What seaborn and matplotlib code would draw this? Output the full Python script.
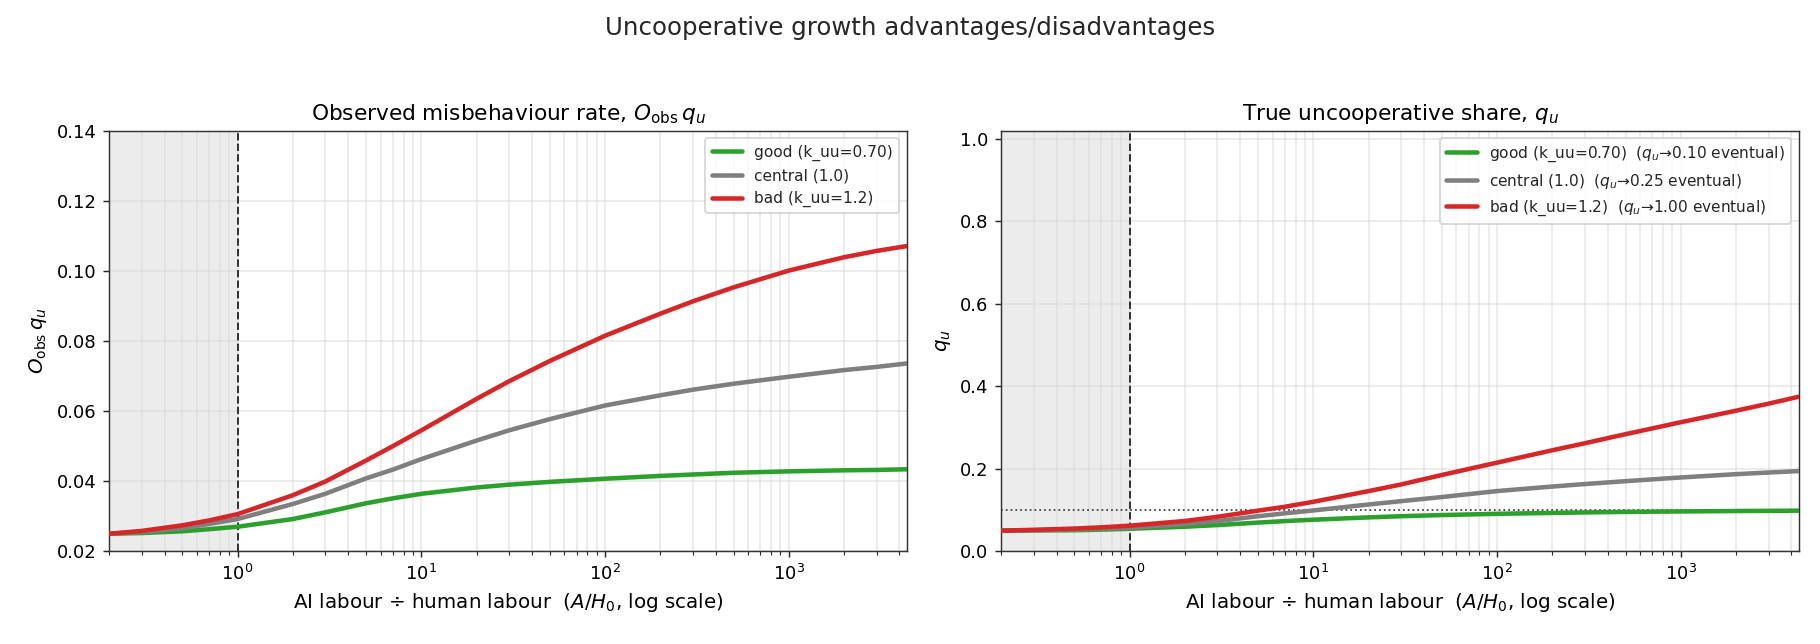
import numpy as np
import pandas as pd
import matplotlib
matplotlib.use("Agg")
import matplotlib.pyplot as plt
import seaborn as sns

# A/H0 sample points (log axis)
ratio = [0.2, 0.3, 0.5, 0.7, 1, 2, 3, 5, 7, 10, 20, 30, 50, 100,
         200, 300, 500, 1000, 2000, 3000, 4400]

# observed misbehaviour rate O_obs * q_u
obs_good = [0.0250, 0.0252, 0.0257, 0.0263, 0.0270, 0.0292, 0.0311, 0.0337,
            0.0351, 0.0364, 0.0382, 0.0390, 0.0398, 0.0407, 0.0415, 0.0419,
            0.0424, 0.0428, 0.0431, 0.0432, 0.0434]
obs_central = [0.0250, 0.0255, 0.0266, 0.0278, 0.0292, 0.0335, 0.0364, 0.0408,
               0.0433, 0.0463, 0.0516, 0.0545, 0.0577, 0.0616, 0.0645, 0.0661,
               0.0678, 0.0698, 0.0717, 0.0726, 0.0736]
obs_bad = [0.0250, 0.0258, 0.0274, 0.0288, 0.0306, 0.0360, 0.0399, 0.0459,
           0.0500, 0.0545, 0.0635, 0.0685, 0.0743, 0.0815, 0.0878, 0.0913,
           0.0953, 0.1001, 0.1039, 0.1057, 0.1071]

# true uncooperative share q_u
q_good = [0.050, 0.0505, 0.051, 0.0525, 0.0545, 0.0595, 0.0635, 0.0695,
          0.0732, 0.0765, 0.0822, 0.0850, 0.0878, 0.0908, 0.0930, 0.0942,
          0.0955, 0.0966, 0.0976, 0.0980, 0.0985]
q_central = [0.050, 0.051, 0.053, 0.055, 0.057, 0.066, 0.073, 0.085,
             0.092, 0.099, 0.1135, 0.1215, 0.1315, 0.146, 0.157, 0.163,
             0.170, 0.179, 0.187, 0.191, 0.1945]
q_bad = [0.050, 0.052, 0.055, 0.058, 0.062, 0.0735, 0.0835, 0.0985,
         0.108, 0.120, 0.146, 0.162, 0.185, 0.215, 0.245, 0.262,
         0.284, 0.313, 0.341, 0.358, 0.375]

scenarios = ["good (k_uu=0.70)", "central (1.0)", "bad (k_uu=1.2)"]
eventual = ["0.10", "0.25", "1.00"]
colors = ["#2ca02c", "#7f7f7f", "#d62728"]
q_eventual_good = 0.10
x_min, x_max = 0.2, 4400

sns.set_style("ticks")
plt.rcParams["font.family"] = ["DejaVu Sans"]

fig, axes = plt.subplots(1, 2, figsize=(14, 4.954), dpi=130)
fig.subplots_adjust(left=0.06, right=0.9885, top=0.797, bottom=0.144, wspace=0.118)


def make_frame(series, labels):
    rows = []
    for lab, vals in zip(labels, series):
        for x, v in zip(ratio, vals):
            rows.append({"ratio": x, "value": v, "scenario": lab})
    return pd.DataFrame(rows)


left_df = make_frame([obs_good, obs_central, obs_bad], scenarios)
right_labels = [f"{s}  ($q_u$→{e} eventual)" for s, e in zip(scenarios, eventual)]
right_df = make_frame([q_good, q_central, q_bad], right_labels)

panels = [
    (axes[0], left_df, scenarios, "Observed misbehaviour rate, $O_{\\rm obs}\\,q_u$",
     "$O_{\\rm obs}\\,q_u$", (0.02, 0.14)),
    (axes[1], right_df, right_labels, "True uncooperative share, $q_u$",
     "$q_u$", (0.0, 1.02)),
]

for ax, df, labels, title, ylab, ylim in panels:
    ax.axvspan(x_min, 1, color="#ececec", zorder=0, lw=0)
    sns.lineplot(data=df, x="ratio", y="value", hue="scenario", hue_order=labels,
                 palette=colors, linewidth=2.5, estimator=None, ax=ax, zorder=3)
    ax.axvline(1, color="#333333", ls="--", lw=1.1, zorder=2)
    ax.set_xscale("log")
    ax.set_xlim(x_min, x_max)
    ax.set_ylim(*ylim)
    ax.grid(True, which="both", color="#d9d9d9", alpha=0.6, lw=0.9, zorder=1)
    ax.set_axisbelow(True)
    ax.set_title(title, fontsize=12, color="black")
    ax.set_xlabel("AI labour ÷ human labour  ($A/H_0$, log scale)", fontsize=11, color="black")
    ax.set_ylabel(ylab, fontsize=11, color="black")
    ax.tick_params(labelsize=10, labelcolor="black")
    for sp in ax.spines.values():
        sp.set_color("#333333")
    ax.legend(loc="upper right", fontsize=8.5, title=None)

axes[0].set_yticks(np.arange(0.02, 0.1401, 0.02))
axes[1].set_yticks(np.arange(0.0, 1.001, 0.2))
axes[1].axhline(q_eventual_good, color="#444444", ls=":", lw=1.0, zorder=2)

fig.suptitle("Uncooperative growth advantages/disadvantages", fontsize=13.5, y=0.975)

fig.savefig("out.png", dpi=130)
